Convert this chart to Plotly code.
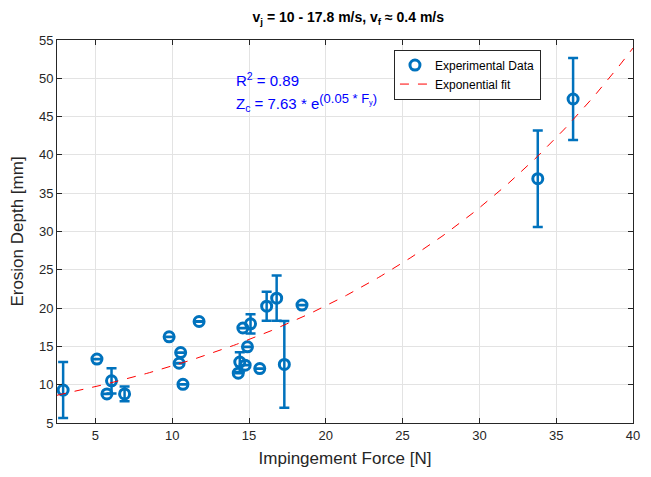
import plotly.graph_objects as go
import numpy as np

force = [2.9, 5.1, 5.75, 6.05, 6.9, 9.8, 10.55, 10.45, 10.7, 11.75,
         14.3, 14.4, 14.75, 14.9, 14.6, 15.1, 15.7, 16.15, 16.8, 17.3,
         18.45, 33.8, 36.1]
depth = [9.3, 13.35, 8.8, 10.5, 8.8, 16.25, 14.2, 12.8, 10.05, 18.25,
         11.5, 12.95, 12.55, 14.95, 17.4, 17.95, 12.1, 20.25, 21.3, 12.65,
         20.4, 36.9, 47.3]
err = [3.65, 0.0, 0.0, 1.65, 0.95, 0.0, 0.0, 0.0, 0.0, 0.0,
       0.0, 1.3, 0.0, 0.0, 0.0, 1.25, 0.0, 1.9, 2.95, 5.65,
       0.0, 6.3, 5.35]

fit_a = 7.63
fit_b = 0.0489
fit_x = np.linspace(2.5, 40, 200)
fit_y = fit_a * np.exp(fit_b * fit_x)

blue = "#0072BD"
font_fam = "Liberation Sans, Arial"

idx_e = [i for i, e in enumerate(err) if e > 0]
idx_z = [i for i, e in enumerate(err) if e == 0]

marker = dict(symbol="circle-open", size=10, color=blue, line=dict(width=3, color=blue))

fig = go.Figure()
# points without measurable spread (MATLAB draws a zero-length bar inside the circle)
fig.add_trace(go.Scatter(
    x=[force[i] for i in idx_z], y=[depth[i] for i in idx_z], mode="markers",
    name="Experimental Data", showlegend=False, legendgroup="exp",
    marker=marker,
    error_y=dict(type="data", array=[0.05 for i in idx_z], visible=True, color=blue,
                 thickness=2, width=4),
))
fig.add_trace(go.Scatter(
    x=[force[i] for i in idx_e], y=[depth[i] for i in idx_e], mode="markers",
    name="Experimental Data", legendgroup="exp",
    marker=marker,
    error_y=dict(type="data", array=[err[i] for i in idx_e], visible=True, color=blue,
                 thickness=2.5, width=5),
))
fig.add_trace(go.Scatter(
    x=fit_x, y=fit_y, mode="lines", name="Exponential fit",
    line=dict(color="#FF0000", width=1, dash="dash"),
))

fig.add_annotation(x=14.0, y=49.8, xref="x", yref="y", xanchor="left", yanchor="middle",
                   text="R<sup>2</sup> = 0.89", showarrow=False,
                   font=dict(size=15, color="#0000FF", family=font_fam))
fig.add_annotation(x=14.0, y=46.9, xref="x", yref="y", xanchor="left", yanchor="middle",
                   text="Z<sub>c</sub> = 7.63 * e<sup><span style='font-size:13px'>(0.05 * F</span><sub>y</sub><span style='font-size:13px'>)</span></sup>",
                   showarrow=False,
                   font=dict(size=15, color="#0000FF", family=font_fam))

axis_common = dict(showgrid=True, gridcolor="#E3E3E3", gridwidth=1, zeroline=False,
                   showline=True, linecolor="#262626", linewidth=1, mirror="ticks",
                   ticks="inside", ticklen=5, tickcolor="#262626",
                   tickfont=dict(size=13, color="#262626"))
fig.update_xaxes(range=[2.5, 40], tickvals=[5, 10, 15, 20, 25, 30, 35, 40],
                 title=dict(text="Impingement Force [N]", font=dict(size=17, color="#262626"), standoff=10),
                 **axis_common)
fig.update_yaxes(range=[5, 55], tickvals=[5, 10, 15, 20, 25, 30, 35, 40, 45, 50, 55],
                 title=dict(text="Erosion Depth [mm]", font=dict(size=17, color="#262626"), standoff=10),
                 **axis_common)

fig.update_layout(
    width=651, height=477,
    margin=dict(l=57, r=11, t=40, b=54),
    paper_bgcolor="white", plot_bgcolor="white",
    font=dict(family=font_fam, color="#262626"),
    title=dict(text="<b>v<sub>j</sub> = 10 - 17.8 m/s, v<sub>f</sub> ≈ 0.4 m/s</b>",
               x=0.535, xanchor="center", y=0.965, yanchor="middle",
               font=dict(size=14, color="#000000")),
    showlegend=True,
    legend=dict(x=0.585, y=0.975, xanchor="left", yanchor="top",
                bgcolor="white", bordercolor="#262626", borderwidth=1,
                font=dict(size=12, color="#000000"), tracegroupgap=0),
)
fig.write_html("out.html")
